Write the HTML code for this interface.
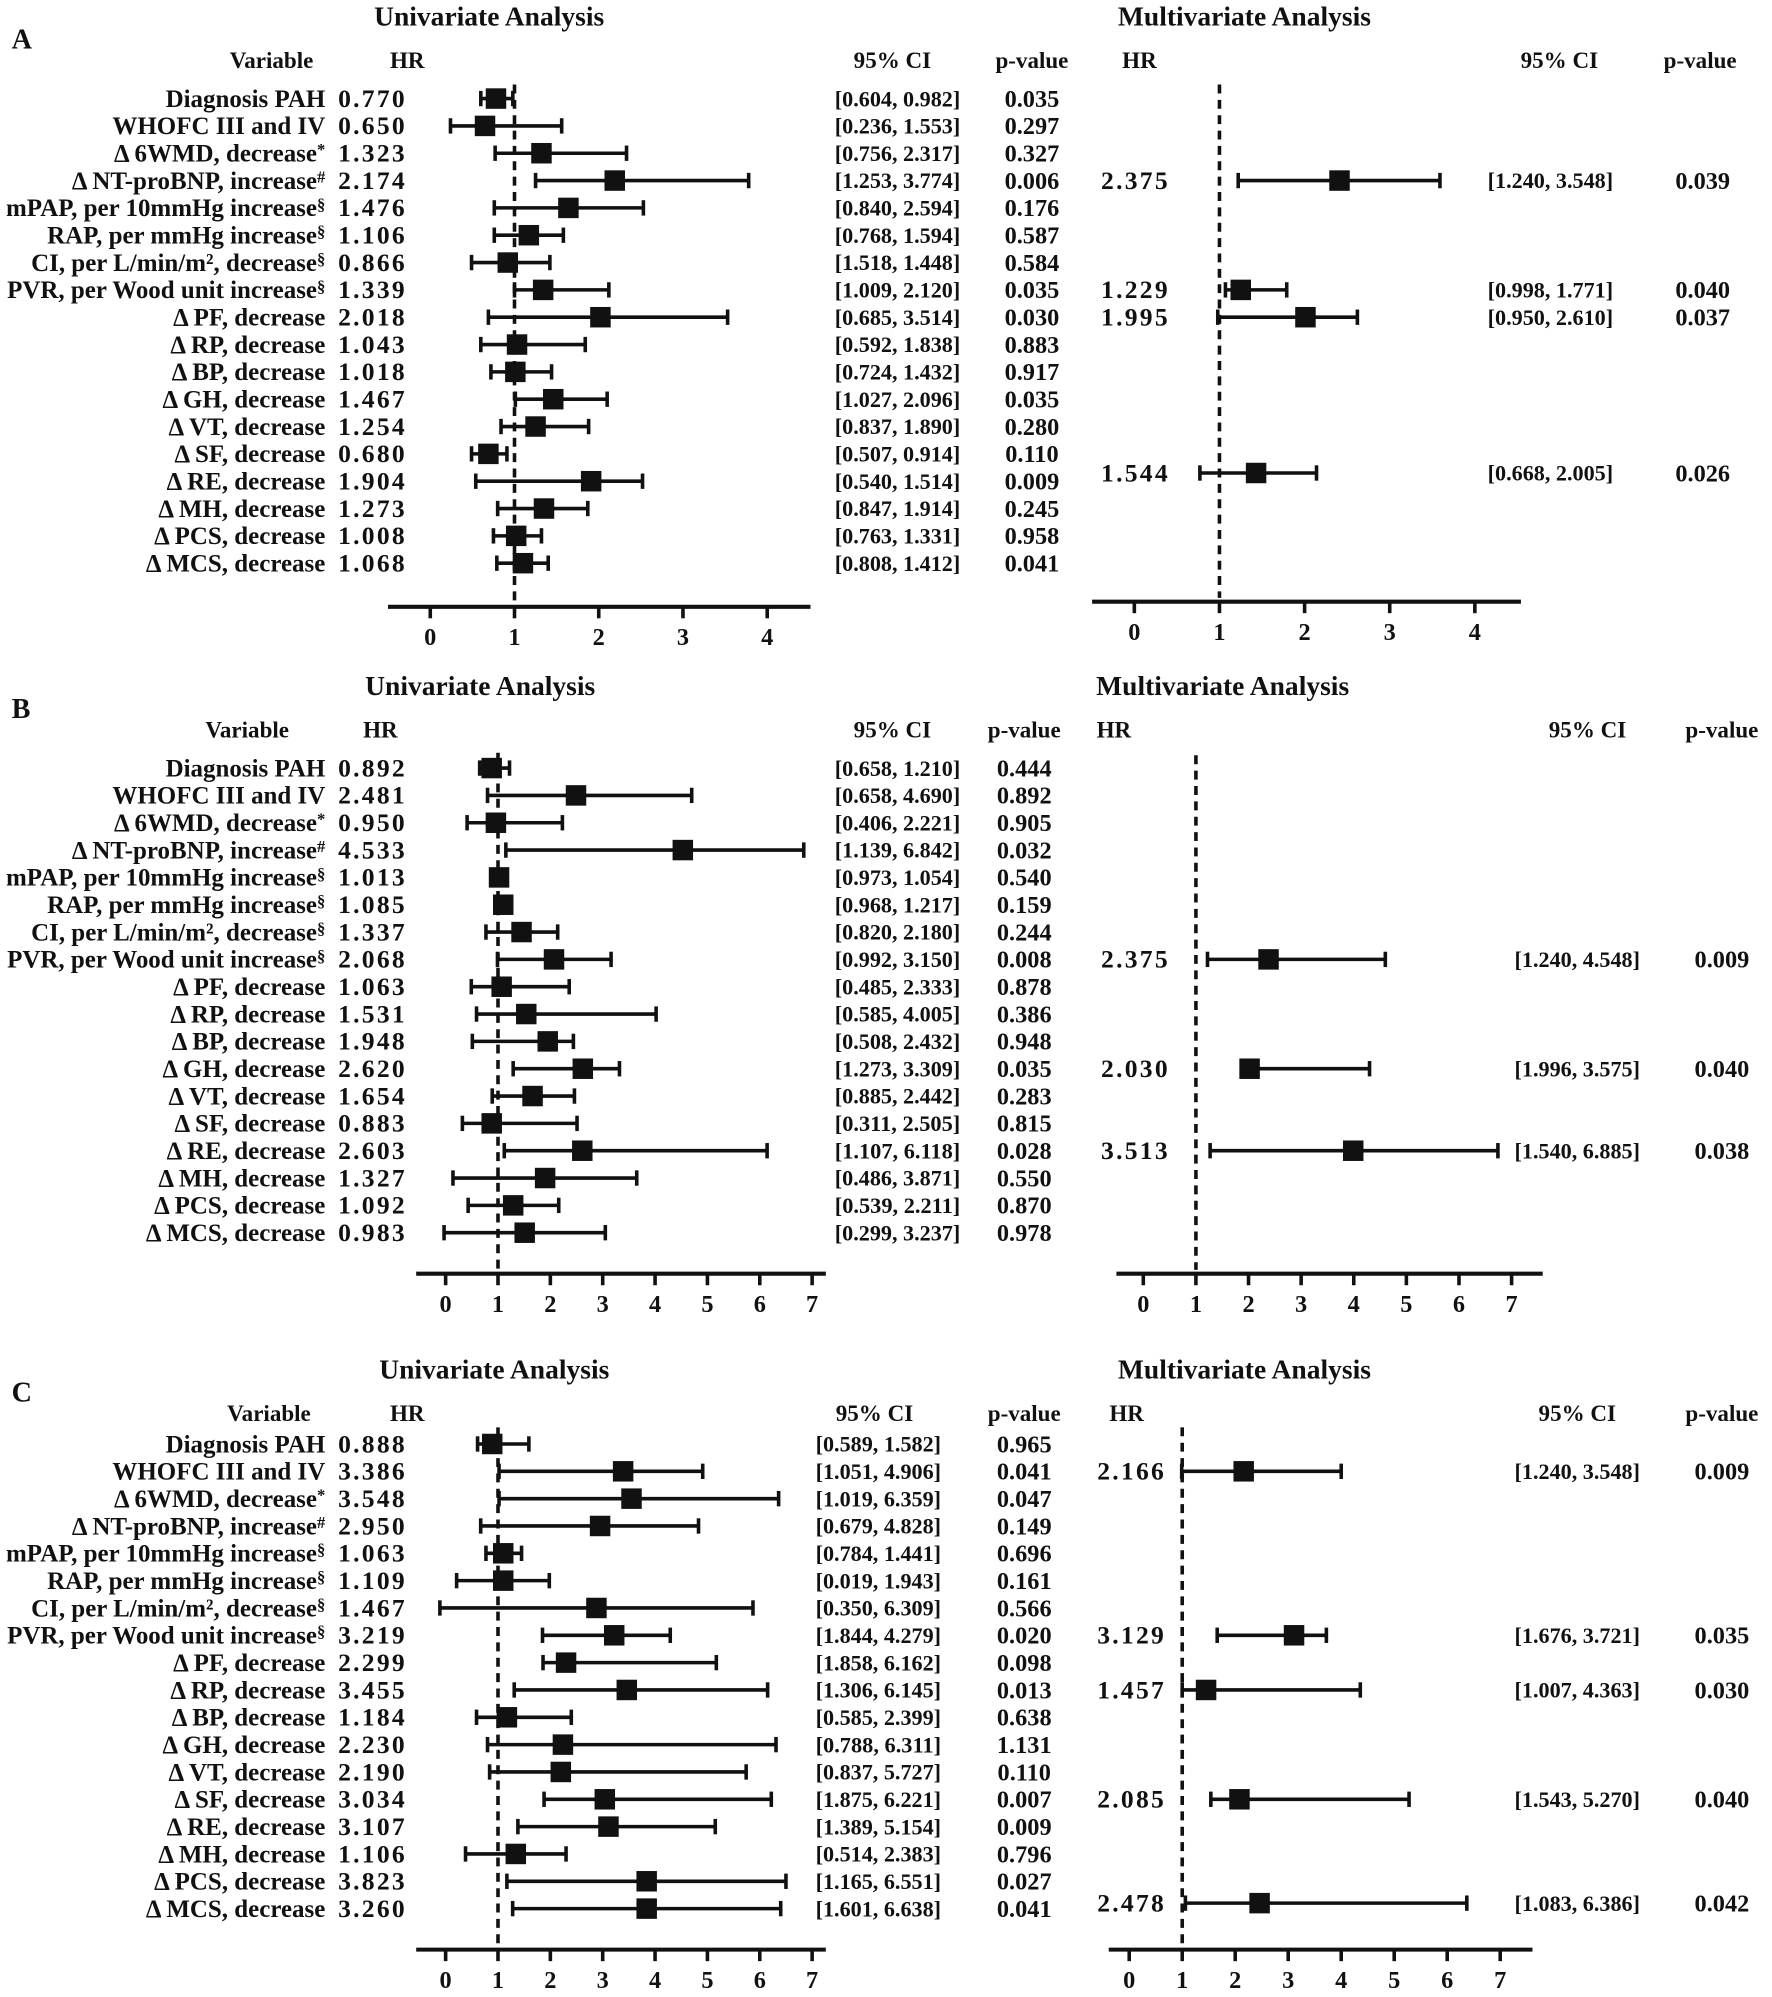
<!DOCTYPE html>
<html><head><meta charset="utf-8">
<style>
html,body{margin:0;padding:0;background:#fff;}
svg{display:block;}
text{font-family:"Liberation Serif",serif;font-weight:bold;fill:#111;}
</style></head>
<body>
<svg id="fig" width="1772" height="1997" viewBox="0 0 1384 1560" xmlns="http://www.w3.org/2000/svg"></svg>
<script>
const labels = ["Diagnosis PAH","WHOFC III and IV","Δ 6WMD, decrease|*","Δ NT-proBNP, increase|#","mPAP, per 10mmHg increase|§","RAP, per mmHg increase|§","CI, per L/min/m², decrease|§","PVR, per Wood unit increase|§","Δ PF, decrease","Δ RP, decrease","Δ BP, decrease","Δ GH, decrease","Δ VT, decrease","Δ SF, decrease","Δ RE, decrease","Δ MH, decrease","Δ PCS, decrease","Δ MCS, decrease"];
const ticksA = [0,1,2,3,4];
const ticksBC = [0,1,2,3,4,5,6,7];

// Panel A univariate
const A_uniPoint = [0.78,0.65,1.32,2.19,1.64,1.17,0.92,1.34,2.02,1.03,1.01,1.46,1.25,0.69,1.91,1.35,1.02,1.10];
const A_uniLo = [0.60,0.24,0.77,1.25,0.76,0.76,0.49,1.00,0.69,0.60,0.72,1.01,0.84,0.49,0.54,0.80,0.75,0.79];
const A_uniHi = [0.98,1.56,2.33,3.78,2.53,1.58,1.42,2.12,3.53,1.84,1.44,2.10,1.88,0.91,2.52,1.87,1.32,1.40];
const A_uniHR = ["0.770","0.650","1.323","2.174","1.476","1.106","0.866","1.339","2.018","1.043","1.018","1.467","1.254","0.680","1.904","1.273","1.008","1.068"];
const A_uniCI = ["[0.604, 0.982]","[0.236, 1.553]","[0.756, 2.317]","[1.253, 3.774]","[0.840, 2.594]","[0.768, 1.594]","[1.518, 1.448]","[1.009, 2.120]","[0.685, 3.514]","[0.592, 1.838]","[0.724, 1.432]","[1.027, 2.096]","[0.837, 1.890]","[0.507, 0.914]","[0.540, 1.514]","[0.847, 1.914]","[0.763, 1.331]","[0.808, 1.412]"];
const A_uniP = ["0.035","0.297","0.327","0.006","0.176","0.587","0.584","0.035","0.030","0.883","0.917","0.035","0.280","0.110","0.009","0.245","0.958","0.041"];
// Panel A multivariate
const A_mulRow = [3,7,8,13.7];
const A_mulPoint = [2.41,1.25,2.01,1.43];
const A_mulLo = [1.22,1.07,0.98,0.77];
const A_mulHi = [3.59,1.79,2.62,2.14];
const A_mulHR = ["2.375","1.229","1.995","1.544"];
const A_mulCI = ["[1.240, 3.548]","[0.998, 1.771]","[0.950, 2.610]","[0.668, 2.005]"];
const A_mulP = ["0.039","0.040","0.037","0.026"];

// Panel B univariate
const B_uniPoint = [0.88,2.49,0.96,4.53,1.02,1.10,1.45,2.07,1.07,1.54,1.95,2.62,1.66,0.88,2.61,1.90,1.29,1.51];
const B_uniLo = [0.65,0.80,0.41,1.15,0.97,0.97,0.77,0.99,0.49,0.59,0.51,1.29,0.89,0.32,1.12,0.14,0.43,-0.03];
const B_uniHi = [1.22,4.70,2.23,6.84,1.05,1.22,2.14,3.16,2.36,4.02,2.44,3.32,2.46,2.51,6.14,3.65,2.16,3.05];
const B_uniHR = ["0.892","2.481","0.950","4.533","1.013","1.085","1.337","2.068","1.063","1.531","1.948","2.620","1.654","0.883","2.603","1.327","1.092","0.983"];
const B_uniCI = ["[0.658, 1.210]","[0.658, 4.690]","[0.406, 2.221]","[1.139, 6.842]","[0.973, 1.054]","[0.968, 1.217]","[0.820, 2.180]","[0.992, 3.150]","[0.485, 2.333]","[0.585, 4.005]","[0.508, 2.432]","[1.273, 3.309]","[0.885, 2.442]","[0.311, 2.505]","[1.107, 6.118]","[0.486, 3.871]","[0.539, 2.211]","[0.299, 3.237]"];
const B_uniP = ["0.444","0.892","0.905","0.032","0.540","0.159","0.244","0.008","0.878","0.386","0.948","0.035","0.283","0.815","0.028","0.550","0.870","0.978"];
// Panel B multivariate
const B_mulRow = [7,11,14];
const B_mulPoint = [2.38,2.02,3.99];
const B_mulLo = [1.22,2.00,1.27];
const B_mulHi = [4.60,4.30,6.74];
const B_mulHR = ["2.375","2.030","3.513"];
const B_mulCI = ["[1.240, 4.548]","[1.996, 3.575]","[1.540, 6.885]"];
const B_mulP = ["0.009","0.040","0.038"];

// Panel C univariate
const C_uniPoint = [0.89,3.39,3.55,2.95,1.10,1.10,2.88,3.22,2.30,3.46,1.17,2.24,2.20,3.04,3.11,1.34,3.84,3.84];
const C_uniLo = [0.61,1.02,1.02,0.67,0.77,0.21,-0.11,1.85,1.86,1.31,0.59,0.80,0.84,1.88,1.38,0.38,1.17,1.28];
const C_uniHi = [1.59,4.91,6.36,4.83,1.45,1.98,5.87,4.29,5.17,6.15,2.40,6.31,5.74,6.22,5.15,2.30,6.50,6.40];
const C_uniHR = ["0.888","3.386","3.548","2.950","1.063","1.109","1.467","3.219","2.299","3.455","1.184","2.230","2.190","3.034","3.107","1.106","3.823","3.260"];
const C_uniCI = ["[0.589, 1.582]","[1.051, 4.906]","[1.019, 6.359]","[0.679, 4.828]","[0.784, 1.441]","[0.019, 1.943]","[0.350, 6.309]","[1.844, 4.279]","[1.858, 6.162]","[1.306, 6.145]","[0.585, 2.399]","[0.788, 6.311]","[0.837, 5.727]","[1.875, 6.221]","[1.389, 5.154]","[0.514, 2.383]","[1.165, 6.551]","[1.601, 6.638]"];
const C_uniP = ["0.965","0.041","0.047","0.149","0.696","0.161","0.566","0.020","0.098","0.013","0.638","1.131","0.110","0.007","0.009","0.796","0.027","0.041"];
// Panel C multivariate
const C_mulRow = [1,7,9,13,16.8];
const C_mulPoint = [2.16,3.11,1.45,2.08,2.46];
const C_mulLo = [0.99,1.66,1.00,1.54,1.06];
const C_mulHi = [4.00,3.72,4.36,5.28,6.37];
const C_mulHR = ["2.166","3.129","1.457","2.085","2.478"];
const C_mulCI = ["[1.240, 3.548]","[1.676, 3.721]","[1.007, 4.363]","[1.543, 5.270]","[1.083, 6.386]"];
const C_mulP = ["0.009","0.035","0.030","0.040","0.042"];

const NS = "http://www.w3.org/2000/svg";
const svg = document.getElementById('fig');
function mk(tag, attrs, parent){
  const e = document.createElementNS(NS, tag);
  for (const k in attrs) e.setAttribute(k, attrs[k]);
  (parent||svg).appendChild(e);
  return e;
}
function txt(x,y,s,size,anchor,parent){
  const t = mk('text',{x:x,y:y,'font-size':size,'text-anchor':anchor||'start'},parent);
  t.textContent = s;
  return t;
}

function drawForest(g, P, cfg){
  const sx = v => cfg.x0 + v*cfg.unit;
  const d = mk('line',{x1:sx(1),x2:sx(1),y1:cfg.dashTop,y2:cfg.axisY-3,stroke:'#111','stroke-width':2.8,'stroke-dasharray':'7,5'},g);
  
  
  const ax = mk('line',{x1:cfg.lineX1,x2:cfg.lineX2,y1:cfg.axisY,y2:cfg.axisY,stroke:'#111','stroke-width':3.2},g);
  
  
  cfg.ticks.forEach(tv=>{
    const tk = mk('line',{x1:sx(tv),x2:sx(tv),y1:cfg.axisY,y2:cfg.axisY+9,stroke:'#111','stroke-width':2.8},g);
    
    
    const tl = txt(sx(tv),cfg.axisY+30,String(tv),19,'middle',g);
    
    
  });
  for (let i=0;i<P.point.length;i++){
    const y = cfg.rowY(P.rows ? P.rows[i] : i);
    const lo = sx(P.lo[i]), hi = sx(P.hi[i]);
    const w = mk('line',{x1:lo,x2:hi,y1:y,y2:y,stroke:'#111','stroke-width':2.8},g);
    
    
    [lo,hi].forEach(xx=>{
      const c = mk('line',{x1:xx,x2:xx,y1:y-6,y2:y+6,stroke:'#111','stroke-width':2.8},g);
      
      
    });
    const m = mk('rect',{x:sx(P.point[i])-8,y:y-8,width:16,height:16,fill:'#111'},g);
    
    
    const h = txt(cfg.hrX,y+6.5,P.hr[i],20,'start',g);
    h.setAttribute('textLength',52);
    h.setAttribute('lengthAdjust','spacing');
    
    
    const ci = txt(cfg.ciX,y+6,P.ci[i],17.5,'start',g);
    ci.setAttribute('textLength',98);
    ci.setAttribute('lengthAdjust','spacingAndGlyphs');
    
    
    const p = txt(cfg.pX,y+6.5,P.p[i],19,'middle',g);
    
    
  }
}

function drawLabels(g, rowY, rightX){
  labels.forEach((s,i)=>{
    const parts = s.split('|');
    const t = mk('text',{x:rightX,y:rowY(i)+6.5,'font-size':19.5,'text-anchor':'end'},g);
    
    
    const a = document.createElementNS(NS,'tspan'); a.textContent = parts[0]; t.appendChild(a);
    if (parts[1]){
      const b = document.createElementNS(NS,'tspan'); b.setAttribute('font-size',13); b.setAttribute('dy',-5); b.textContent = parts[1]; t.appendChild(b);
    }
  });
}

function panel(letter, top, H, uni, mul, U, M){
  const g = mk('g',{});
  
  
  const L = txt(9,top+18,letter,22,'start',g);
  
  
  L.setAttribute('font-family','Liberation Sans, sans-serif');
  const t1 = txt(H.uTitle,top,'Univariate Analysis',21.5,'middle',g);
  
  
  const t2 = txt(H.mTitle,top,'Multivariate Analysis',21.5,'middle',g);
  
  
  const hy = top+33;
  [[H.varX,'Variable','variable-header'],[H.hrX,'HR','hr-header'],[H.ciX,'95% CI','ci-header'],[H.pX,'p-value','p-value-header'],[H.mhrX,'HR','multi-hr-header'],[H.mciX,'95% CI','multi-ci-header'],[H.mpX,'p-value','multi-p-value-header']].forEach(a=>{
    const h = txt(a[0],hy,a[1],18,'middle',g);
    
    
  });
  const rowY = i => H.row0 + i*21.35;
  drawLabels(g,rowY,254);
  const gu = mk('g',{},g);
  
  
  drawForest(gu, uni, Object.assign({rowY:rowY},U));
  const gm = mk('g',{},g);
  
  
  drawForest(gm, mul, Object.assign({rowY:rowY},M));
}

panel('A',20,{uTitle:382,mTitle:972,varX:212,hrX:318,ciX:697,pX:806,mhrX:890,mciX:1218,mpX:1328,row0:77},
  {point:A_uniPoint,lo:A_uniLo,hi:A_uniHi,hr:A_uniHR,ci:A_uniCI,p:A_uniP},
  {rows:A_mulRow,point:A_mulPoint,lo:A_mulLo,hi:A_mulHi,hr:A_mulHR,ci:A_mulCI,p:A_mulP},
  {x0:336,unit:65.8,lineX1:303,lineX2:633,axisY:474,dashTop:66,ticks:ticksA,hrX:264,ciX:652,pX:806},
  {x0:886,unit:66.5,lineX1:853,lineX2:1188,axisY:470,dashTop:66,ticks:ticksA,hrX:860,ciX:1162,pX:1330});

panel('B',543,{uTitle:375,mTitle:955,varX:193,hrX:297,ciX:697,pX:800,mhrX:870,mciX:1240,mpX:1345,row0:600},
  {point:B_uniPoint,lo:B_uniLo,hi:B_uniHi,hr:B_uniHR,ci:B_uniCI,p:B_uniP},
  {rows:B_mulRow,point:B_mulPoint,lo:B_mulLo,hi:B_mulHi,hr:B_mulHR,ci:B_mulCI,p:B_mulP},
  {x0:348,unit:40.9,lineX1:325,lineX2:645,axisY:995,dashTop:588,ticks:ticksBC,hrX:264,ciX:652,pX:800},
  {x0:893,unit:41.1,lineX1:872,lineX2:1205,axisY:995,dashTop:590,ticks:ticksBC,hrX:860,ciX:1183,pX:1345});

panel('C',1077,{uTitle:386,mTitle:972,varX:210,hrX:318,ciX:683,pX:800,mhrX:880,mciX:1232,mpX:1345,row0:1128},
  {point:C_uniPoint,lo:C_uniLo,hi:C_uniHi,hr:C_uniHR,ci:C_uniCI,p:C_uniP},
  {rows:C_mulRow,point:C_mulPoint,lo:C_mulLo,hi:C_mulHi,hr:C_mulHR,ci:C_mulCI,p:C_mulP},
  {x0:348,unit:40.9,lineX1:325,lineX2:645,axisY:1523,dashTop:1115,ticks:ticksBC,hrX:264,ciX:637,pX:800},
  {x0:882,unit:41.4,lineX1:866,lineX2:1197,axisY:1523,dashTop:1115,ticks:ticksBC,hrX:857,ciX:1183,pX:1345});
</script>
</body></html>
